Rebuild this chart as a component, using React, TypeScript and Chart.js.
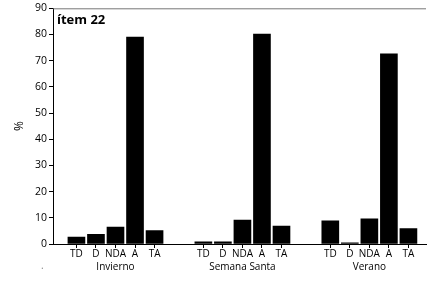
import React, { useEffect, useRef } from "react";
import { Chart, registerables } from "chart.js";

Chart.register(...registerables);

const groups = ["Invierno", "Semana Santa", "Verano"];
const answers = ["TD", "D", "NDA", "A", "TA"];
const invierno = [2.6, 3.7, 6.5, 79.0, 5.1];
const semanaSanta = [0.8, 0.8, 9.1, 80.2, 6.8];
const verano = [8.8, 0.4, 9.6, 72.6, 5.9];
const yTicks = [0, 10, 20, 30, 40, 50, 60, 70, 80, 90];
const titleText = "ítem 22";
const yTitle = "%";

const groupValues = [invierno, semanaSanta, verano];
const GROUP_STEP = 6.5;

export default function App() {
  const ref = useRef<HTMLCanvasElement | null>(null);

  useEffect(() => {
    document.body.style.margin = "0";
    const canvas = ref.current;
    if (!canvas) return;

    const points: { x: number; y: number }[] = [];
    const barTicks: { value: number; label: string }[] = [];
    groupValues.forEach((vals, g) => {
      vals.forEach((v, i) => {
        const x = g * GROUP_STEP + i;
        points.push({ x, y: v });
        barTicks.push({ value: x, label: answers[i] });
      });
    });
    const groupTicks = groups.map((name, g) => ({ value: g * GROUP_STEP + 2, label: name }));

    const font = "'Open Sans', 'Noto Sans', sans-serif";

    const overlay = {
      id: "overlay",
      afterDraw(chart: any) {
        const { ctx, chartArea } = chart;
        ctx.save();
        ctx.strokeStyle = "#777";
        ctx.lineWidth = 1;
        ctx.beginPath();
        ctx.moveTo(chartArea.left, chartArea.top + 0.5);
        ctx.lineTo(chartArea.right, chartArea.top + 0.5);
        ctx.stroke();
        ctx.fillStyle = "#000";
        ctx.font = `bold 13px ${font}`;
        ctx.textAlign = "left";
        ctx.textBaseline = "top";
        ctx.fillText(titleText, chartArea.left + 4, chartArea.top + 5);
        ctx.fillStyle = "#888";
        ctx.font = `10px ${font}`;
        ctx.fillText(".", chartArea.left - 12, chartArea.bottom + 17);
        ctx.restore();
      },
    };

    const chart = new Chart(canvas, {
      type: "bar",
      data: {
        datasets: [
          {
            data: points,
            backgroundColor: "#000",
            borderColor: "#000",
            borderWidth: 0,
            barThickness: 17,
            xAxisID: "x",
            yAxisID: "y",
          },
        ],
      },
      options: {
        animation: false,
        responsive: false,
        maintainAspectRatio: false,
        layout: { padding: { top: 8, right: 1, left: 0, bottom: 0 } },
        plugins: { legend: { display: false }, tooltip: { enabled: false } },
        scales: {
          x: {
            type: "linear",
            position: "bottom",
            offset: false,
            min: -1.2,
            max: 17.9,
            weight: 0,
            afterBuildTicks: (scale: any) => {
              scale.ticks = barTicks.map((t) => ({ value: t.value }));
            },
            afterFit: (scale: any) => {
              scale.height = 16;
            },
            grid: {
              display: true,
              offset: false,
              drawOnChartArea: false,
              drawTicks: true,
              tickLength: 4,
              color: "#000",
            },
            border: { display: true, color: "#000" },
            ticks: {
              autoSkip: false,
              maxRotation: 0,
              padding: 0,
              color: "#000",
              font: { family: font, size: 10 },
              callback: (v: any) => {
                const t = barTicks.find((b) => Math.abs(b.value - Number(v)) < 1e-6);
                return t ? t.label : "";
              },
            },
          },
          x2: {
            type: "linear",
            position: "bottom",
            offset: false,
            min: -1.2,
            max: 17.9,
            weight: 1,
            afterBuildTicks: (scale: any) => {
              scale.ticks = groupTicks.map((t) => ({ value: t.value }));
            },
            afterFit: (scale: any) => {
              scale.height = 22;
            },
            grid: { display: false, drawTicks: false, offset: false },
            border: { display: false },
            ticks: {
              autoSkip: false,
              maxRotation: 0,
              padding: 1,
              color: "#000",
              font: { family: font, size: 10 },
              callback: (v: any) => {
                const t = groupTicks.find((b) => Math.abs(b.value - Number(v)) < 1e-6);
                return t ? t.label : "";
              },
            },
          },
          y: {
            type: "linear",
            min: 0,
            max: 90,
            afterBuildTicks: (scale: any) => {
              scale.ticks = yTicks.map((v) => ({ value: v }));
            },
            afterFit: (scale: any) => {
              scale.width = 53;
            },
            grid: {
              display: true,
              drawOnChartArea: false,
              drawTicks: true,
              tickLength: 4,
              color: "#000",
            },
            border: { display: true, color: "#000" },
            ticks: {
              padding: 2,
              color: "#000",
              font: { family: font, size: 10.5 },
            },
            title: {
              display: true,
              text: yTitle,
              color: "#000",
              font: { family: font, size: 12 },
              padding: { top: 12, bottom: 0 },
            },
          },
        },
      },
      plugins: [overlay],
    } as any);

    return () => chart.destroy();
  }, []);

  return (
    <div style={{ width: 427, height: 282 }}>
      <canvas ref={ref} width={427} height={282} style={{ display: "block" }} />
    </div>
  );
}
